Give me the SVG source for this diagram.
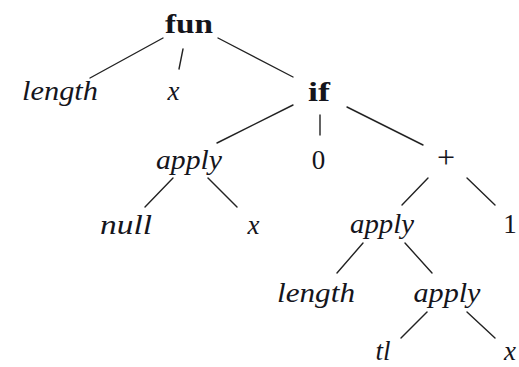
<svg xmlns="http://www.w3.org/2000/svg" width="519" height="367" viewBox="0 0 519 367">
<style>
.t{font-family:"Liberation Serif","DejaVu Serif",serif;font-size:27px;fill:#15151c;text-anchor:middle}
.i{font-style:italic}
.b{font-weight:bold}
.e line{stroke:#222;stroke-width:1.4;stroke-linecap:round}
</style>
<rect width="519" height="367" fill="#fff"/>
<g class="e" id="connectors">
<line x1="163" y1="38" x2="90" y2="78"/>
<line x1="183" y1="49" x2="179" y2="69"/>
<line x1="218" y1="38" x2="293" y2="77"/>
<line x1="293" y1="105" x2="217" y2="143"/>
<line x1="320" y1="115" x2="320" y2="135"/>
<line x1="347" y1="107" x2="423" y2="145"/>
<line x1="173" y1="178" x2="145" y2="207"/>
<line x1="208" y1="178" x2="237" y2="207"/>
<line x1="428" y1="178" x2="402" y2="205"/>
<line x1="467" y1="178" x2="495" y2="205"/>
<line x1="363" y1="243" x2="337" y2="273"/>
<line x1="405" y1="243" x2="432" y2="273"/>
<line x1="427" y1="312" x2="401" y2="338"/>
<line x1="467" y1="312" x2="495" y2="338"/>
</g>
<g id="n-fun"><text class="t b" x="189" y="33" textLength="48" lengthAdjust="spacingAndGlyphs">fun</text></g>
<g id="n-length1"><text class="t i" x="60" y="100" textLength="76" lengthAdjust="spacingAndGlyphs">length</text></g>
<g id="n-x1"><text class="t i" x="173.5" y="100">x</text></g>
<g id="n-if"><text class="t b" x="319" y="101" textLength="22" lengthAdjust="spacingAndGlyphs">if</text></g>
<g id="n-apply1"><text class="t i" x="189" y="169" textLength="66" lengthAdjust="spacingAndGlyphs">apply</text></g>
<g id="n-0"><text class="t" x="318.5" y="169">0</text></g>
<g id="n-plus"><text class="t" x="446" y="168" style="font-size:32px">+</text></g>
<g id="n-null"><text class="t i" x="126" y="234" textLength="52" lengthAdjust="spacingAndGlyphs">null</text></g>
<g id="n-x2"><text class="t i" x="253.5" y="234">x</text></g>
<g id="n-apply2"><text class="t i" x="382" y="233" textLength="64" lengthAdjust="spacingAndGlyphs">apply</text></g>
<g id="n-1"><text class="t" x="510" y="233">1</text></g>
<g id="n-length2"><text class="t i" x="316" y="302" textLength="78" lengthAdjust="spacingAndGlyphs">length</text></g>
<g id="n-apply3"><text class="t i" x="447" y="302" textLength="67" lengthAdjust="spacingAndGlyphs">apply</text></g>
<g id="n-tl"><text class="t i" x="383" y="360">tl</text></g>
<g id="n-x3"><text class="t i" x="510" y="360">x</text></g>
</svg>
